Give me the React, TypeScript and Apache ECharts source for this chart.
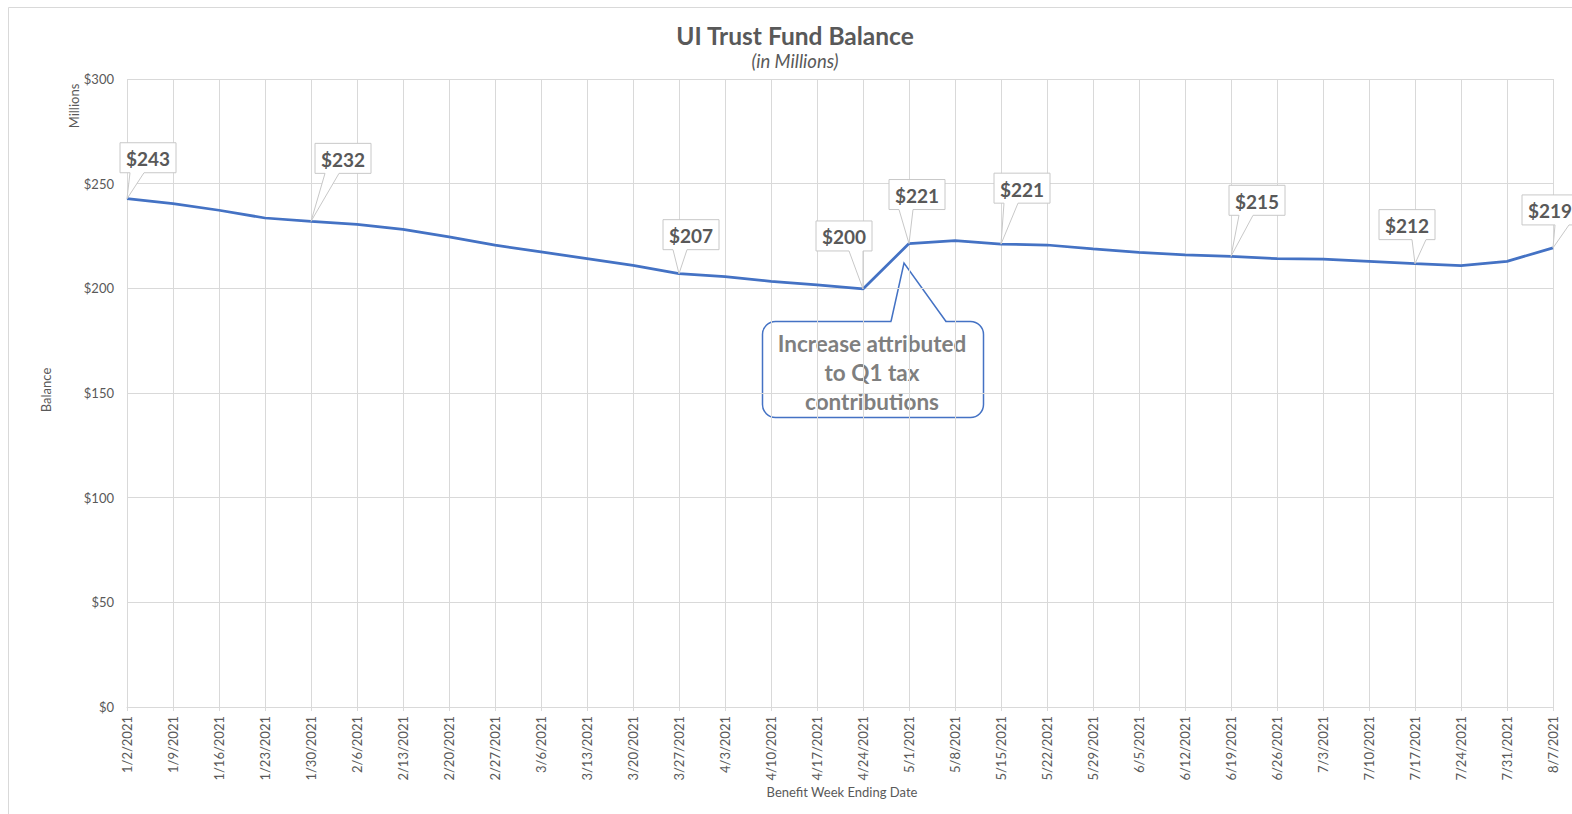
import React, { useEffect, useRef } from "react";
import * as echarts from "echarts";

const CATEGORIES = [
  "1/2/2021", "1/9/2021", "1/16/2021", "1/23/2021", "1/30/2021", "2/6/2021", "2/13/2021", "2/20/2021",
  "2/27/2021", "3/6/2021", "3/13/2021", "3/20/2021", "3/27/2021", "4/3/2021", "4/10/2021", "4/17/2021",
  "4/24/2021", "5/1/2021", "5/8/2021", "5/15/2021", "5/22/2021", "5/29/2021", "6/5/2021", "6/12/2021",
  "6/19/2021", "6/26/2021", "7/3/2021", "7/10/2021", "7/17/2021", "7/24/2021", "7/31/2021", "8/7/2021",
];

const BALANCE = [
  242.8, 240.5, 237.3, 233.6, 232.0, 230.5, 228.2, 224.6,
  220.6, 217.4, 214.2, 211.0, 207.0, 205.6, 203.3, 201.6,
  199.7, 221.4, 222.8, 221.1, 220.7, 218.8, 217.2, 216.0,
  215.3, 214.2, 213.9, 212.9, 211.8, 210.8, 212.9, 219.3,
];

// indices of the points that carry a callout label
const LABELLED = [0, 4, 12, 16, 17, 19, 24, 28, 31];
// callout box centre offset from its point (layout only)
const LABEL_OFFSETS = [
  [21, -41], [32, -63], [12, -39], [-19, -53], [8, -49], [21, -56], [26, -56], [-8, -39], [-3, -38],
];

const Y_TICKS = [0, 50, 100, 150, 200, 250, 300];

const TITLE = "UI Trust Fund Balance";
const SUBTITLE = "(in Millions)";
const ANNOTATION = ["Increase attributed", "to Q1 tax", "contributions"];

const FONT = "Lato, 'Open Sans', sans-serif";

export default function App() {
  const ref = useRef<HTMLDivElement>(null);

  useEffect(() => {
    if (!ref.current) return;
    const chart = echarts.init(ref.current, undefined, { renderer: "svg" });

    const calloutData = LABELLED.map((i) => [i, BALANCE[i]]);

    const option: any = {
      animation: false,
      backgroundColor: "#ffffff",
      textStyle: { fontFamily: FONT },
      grid: { left: 127, top: 79, width: 1426, height: 628, containLabel: false },
      xAxis: {
        type: "category",
        data: CATEGORIES,
        boundaryGap: false,
        axisLine: { show: true, lineStyle: { color: "#d9d9d9", width: 1 } },
        axisTick: { show: true, length: 4, alignWithLabel: true, lineStyle: { color: "#d9d9d9" } },
        axisLabel: { rotate: 90, interval: 0, margin: 9, color: "#595959", fontSize: 13, fontFamily: FONT },
        splitLine: { show: true, interval: 0, lineStyle: { color: "#d9d9d9", width: 1 } },
      },
      yAxis: {
        type: "value",
        min: Y_TICKS[0],
        max: Y_TICKS[Y_TICKS.length - 1],
        interval: 50,
        axisLine: { show: false },
        axisTick: { show: false },
        axisLabel: { margin: 13, color: "#595959", fontSize: 13, fontFamily: FONT, formatter: (v: number) => "$" + v },
        splitLine: { show: true, lineStyle: { color: "#d9d9d9", width: 1 } },
      },
      series: [
        {
          type: "line",
          data: BALANCE,
          symbol: "none",
          lineStyle: { color: "#4472c4", width: 2.75 },
          z: 2,
        },
        {
          type: "custom",
          coordinateSystem: "cartesian2d",
          data: calloutData,
          clip: false,
          z: 5,
          silent: true,
          renderItem: (params: any, api: any) => {
            const idx = api.value(0);
            const val = api.value(1);
            const pt = api.coord([idx, val]);
            const px = pt[0];
            const py = pt[1];
            const off = LABEL_OFFSETS[params.dataIndex];
            const cx = px + off[0];
            const cy = py + off[1];
            const w = 56;
            const h = 30;
            const l = cx - w / 2;
            const r = cx + w / 2;
            const t = cy - h / 2;
            const b = cy + h / 2;
            const wl = px < cx ? l + 10 : l + 33;
            const wr = wl + 14;
            return {
              type: "group",
              children: [
                {
                  type: "polygon",
                  shape: { points: [[l, t], [r, t], [r, b], [wr, b], [px, py], [wl, b], [l, b]] },
                  style: { fill: "#ffffff", stroke: "#c8c8c8", lineWidth: 1 },
                },
                {
                  type: "text",
                  style: {
                    text: "$" + Math.round(val),
                    x: cx,
                    y: cy + 1,
                    align: "center",
                    verticalAlign: "middle",
                    font: "bold 19px " + FONT,
                    fill: "#595959",
                  },
                },
              ],
            };
          },
        },
      ],
      graphic: [
        {
          type: "rect",
          shape: { x: 8.5, y: 7.5, width: 1700, height: 900 },
          style: { fill: "none", stroke: "#d9d9d9", lineWidth: 1 },
          silent: true,
          z: 0,
        },
        {
          type: "text",
          x: 795,
          y: 35,
          style: { text: TITLE, font: "bold 24.5px " + FONT, fill: "#595959", align: "center", verticalAlign: "middle" },
        },
        {
          type: "text",
          x: 795,
          y: 61,
          style: { text: SUBTITLE, font: "italic 18.5px " + FONT, fill: "#595959", align: "center", verticalAlign: "middle" },
        },
        {
          type: "text",
          x: 74,
          y: 106,
          rotation: Math.PI / 2,
          style: { text: "Millions", font: "13px " + FONT, fill: "#595959", align: "center", verticalAlign: "middle" },
        },
        {
          type: "text",
          x: 46,
          y: 390,
          rotation: Math.PI / 2,
          style: { text: "Balance", font: "13px " + FONT, fill: "#595959", align: "center", verticalAlign: "middle" },
        },
        {
          type: "text",
          x: 842,
          y: 792,
          style: { text: "Benefit Week Ending Date", font: "13px " + FONT, fill: "#595959", align: "center", verticalAlign: "middle" },
        },
        {
          type: "group",
          z: 10,
          children: [
            {
              type: "rect",
              shape: { x: 762.5, y: 321.5, width: 221, height: 96, r: 13 },
              style: { fill: "#ffffff", stroke: "#4472c4", lineWidth: 1.5 },
            },
            {
              type: "line",
              shape: { x1: 892, y1: 321.5, x2: 945, y2: 321.5 },
              style: { stroke: "#ffffff", lineWidth: 3 },
            },
            {
              type: "polygon",
              shape: { points: [[891, 322.5], [904, 263], [946, 322.5]] },
              style: { fill: "#ffffff", stroke: "none" },
            },
            {
              type: "polyline",
              shape: { points: [[891, 321.5], [904, 263], [946, 321.5]] },
              style: { fill: "none", stroke: "#4472c4", lineWidth: 1.5 },
            },
            {
              type: "text",
              x: 872,
              y: 343,
              style: { text: ANNOTATION[0], font: "bold 22.5px " + FONT, fill: "#7f7f7f", align: "center", verticalAlign: "middle" },
            },
            {
              type: "text",
              x: 872,
              y: 372,
              style: { text: ANNOTATION[1], font: "bold 22.5px " + FONT, fill: "#7f7f7f", align: "center", verticalAlign: "middle" },
            },
            {
              type: "text",
              x: 872,
              y: 401,
              style: { text: ANNOTATION[2], font: "bold 22.5px " + FONT, fill: "#7f7f7f", align: "center", verticalAlign: "middle" },
            },
          ],
        },
      ],
    };

    chart.setOption(option);
    return () => chart.dispose();
  }, []);

  return (
    <div
      ref={ref}
      style={{ position: "fixed", left: 0, top: 0, width: 1572, height: 814 }}
    />
  );
}
